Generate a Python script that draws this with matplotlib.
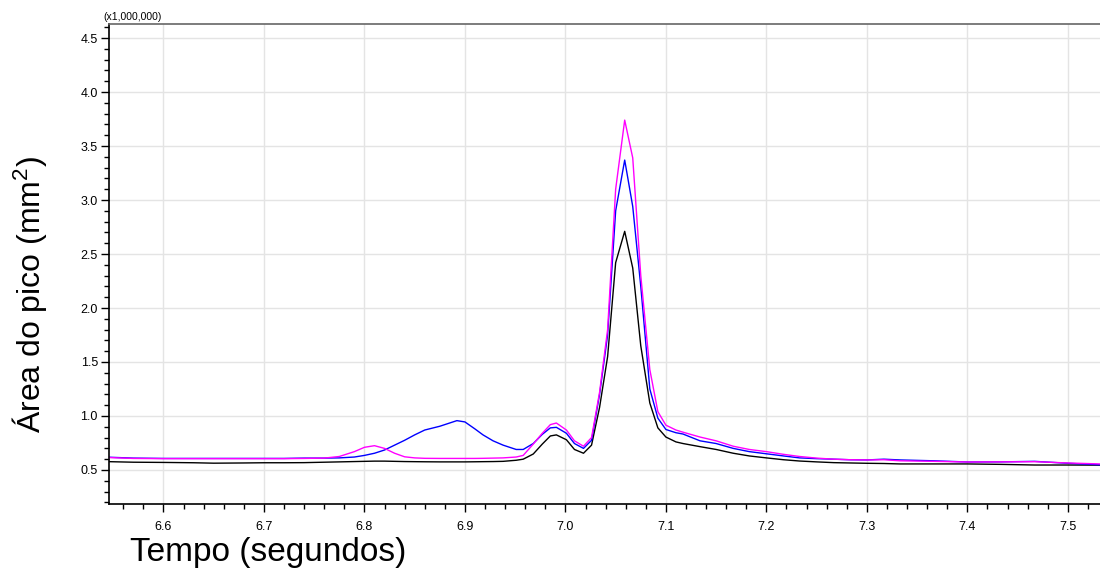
import numpy as np
import matplotlib
matplotlib.use('Agg')
import matplotlib.pyplot as plt
from matplotlib.ticker import MultipleLocator, FormatStrFormatter

plt.rcParams['font.family'] = ['Liberation Sans', 'DejaVu Sans']
plt.rcParams['mathtext.default'] = 'regular'

# tempo (s) e sinal (x1,000,000) das três corridas
tempo = [6.546, 6.570, 6.600, 6.630, 6.650, 6.680, 6.700, 6.720, 6.740, 6.760,
         6.775, 6.790, 6.800, 6.810, 6.820, 6.830, 6.840, 6.850, 6.860, 6.875,
         6.892, 6.900, 6.910, 6.918, 6.928, 6.938, 6.951, 6.958, 6.968, 6.977,
         6.985, 6.991, 7.001, 7.009, 7.018, 7.026, 7.034, 7.042, 7.050, 7.059,
         7.067, 7.075, 7.084, 7.092, 7.100, 7.110, 7.117, 7.134, 7.150, 7.167,
         7.183, 7.200, 7.217, 7.233, 7.250, 7.267, 7.283, 7.300, 7.317, 7.333,
         7.367, 7.400, 7.433, 7.467, 7.500, 7.532]

sinal_magenta = [0.615, 0.607, 0.605, 0.605, 0.605, 0.605, 0.605, 0.605, 0.607, 0.610,
                 0.625, 0.670, 0.710, 0.725, 0.700, 0.655, 0.622, 0.612, 0.608, 0.607,
                 0.607, 0.607, 0.607, 0.608, 0.610, 0.612, 0.620, 0.635, 0.740, 0.840,
                 0.920, 0.935, 0.870, 0.770, 0.720, 0.800, 1.220, 1.800, 3.100, 3.740,
                 3.390, 2.300, 1.430, 1.040, 0.915, 0.870, 0.850, 0.805, 0.770, 0.720,
                 0.690, 0.670, 0.645, 0.625, 0.610, 0.600, 0.595, 0.593, 0.595, 0.585,
                 0.580, 0.574, 0.575, 0.577, 0.565, 0.556]

sinal_azul = [0.618, 0.610, 0.607, 0.607, 0.607, 0.607, 0.607, 0.607, 0.610, 0.610,
              0.612, 0.620, 0.635, 0.655, 0.685, 0.730, 0.775, 0.825, 0.870, 0.905,
              0.957, 0.945, 0.880, 0.825, 0.770, 0.730, 0.690, 0.690, 0.745, 0.830,
              0.890, 0.895, 0.840, 0.745, 0.700, 0.775, 1.200, 1.750, 2.900, 3.370,
              2.940, 2.200, 1.250, 0.980, 0.875, 0.845, 0.833, 0.770, 0.745, 0.700,
              0.670, 0.650, 0.630, 0.612, 0.605, 0.600, 0.595, 0.593, 0.600, 0.593,
              0.585, 0.574, 0.575, 0.580, 0.562, 0.548]

sinal_preto = [0.577, 0.572, 0.570, 0.567, 0.563, 0.565, 0.567, 0.567, 0.568, 0.572,
               0.575, 0.578, 0.580, 0.582, 0.582, 0.580, 0.578, 0.577, 0.576, 0.575,
               0.575, 0.575, 0.576, 0.577, 0.578, 0.580, 0.590, 0.600, 0.648, 0.740,
               0.815, 0.825, 0.780, 0.690, 0.655, 0.730, 1.080, 1.550, 2.420, 2.710,
               2.370, 1.650, 1.120, 0.890, 0.805, 0.760, 0.745, 0.716, 0.690, 0.655,
               0.630, 0.612, 0.595, 0.583, 0.575, 0.568, 0.565, 0.562, 0.560, 0.556,
               0.556, 0.556, 0.552, 0.546, 0.546, 0.545]

fig = plt.figure(figsize=(11, 5.71), dpi=100)
ax = fig.add_axes([109 / 1100, 67 / 571, 1 - 109 / 1100, (504 - 24) / 571])

ax.plot(tempo, sinal_preto, color='black', lw=1.0)
ax.plot(tempo, sinal_azul, color='#0000ff', lw=1.0)
ax.plot(tempo, sinal_magenta, color='#ff00ff', lw=1.0)

ax.set_xlim(6.5458, 7.532)
ax.set_ylim(0.185, 4.63)

ax.xaxis.set_major_locator(MultipleLocator(0.1))
ax.xaxis.set_minor_locator(MultipleLocator(0.02))
ax.yaxis.set_major_locator(MultipleLocator(0.5))
ax.yaxis.set_minor_locator(MultipleLocator(0.1))
ax.xaxis.set_major_formatter(FormatStrFormatter('%.1f'))
ax.yaxis.set_major_formatter(FormatStrFormatter('%.1f'))

ax.tick_params(which='major', direction='out', length=6, width=1, labelsize=9, pad=2)
ax.tick_params(which='minor', direction='out', length=3.5, width=1)
ax.tick_params(axis='x', which='major', pad=6)

ax.grid(True, which='major', color='#e4e4e4', lw=1)
ax.set_axisbelow(True)

ax.spines['right'].set_visible(False)
ax.spines['top'].set_color('#666666')
ax.spines['top'].set_linewidth(1.2)
ax.spines['left'].set_linewidth(1.2)
ax.spines['bottom'].set_linewidth(1.2)

fig.text(103 / 1100, 1 - 17 / 571, '(x1,000,000)', fontsize=7.5, va='center', ha='left')
fig.text(30 / 1100, 1 - 295 / 571, 'Área do pico (mm$^{2}$)', fontsize=23,
         rotation=90, ha='center', va='center')
fig.text(130 / 1100, 1 - 553 / 571, 'Tempo (segundos)', fontsize=24, ha='left', va='center')

plt.savefig('out.png', dpi=100)
